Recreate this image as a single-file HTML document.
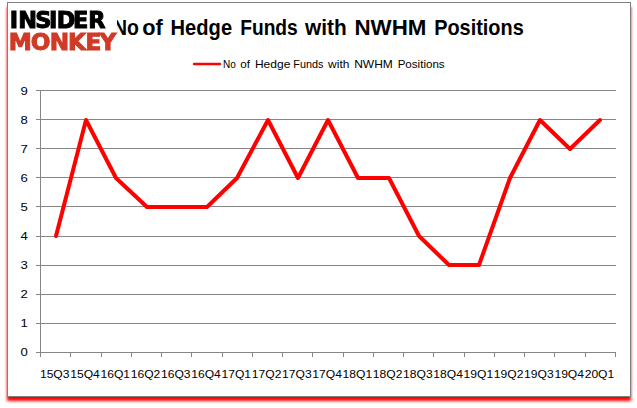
<!DOCTYPE html>
<html><head><meta charset="utf-8"><title>No of Hedge Funds with NWHM Positions</title>
<style>
html,body{margin:0;padding:0;background:#fff;}
body{width:637px;height:408px;position:relative;overflow:hidden;font-family:"Liberation Sans",sans-serif;}
#box{position:absolute;left:7px;top:2px;width:622px;height:393px;border:1px solid #7f7f7f;background:#fff;}
#sh{position:absolute;left:7px;top:7px;width:623.6px;height:394px;background:#ff0000;filter:blur(1.8px);}
svg{position:absolute;left:0;top:0;}
#logo{will-change:transform;}
text{font-family:"Liberation Sans",sans-serif;}
.ax{font-size:11.6px;fill:#000;}
.lg{font-size:11.6px;fill:#000;}
.ti{font-size:21.5px;font-weight:bold;fill:#000;}
.lo{font-family:"DejaVu Sans","Liberation Sans",sans-serif;font-weight:bold;stroke-linejoin:miter;}
</style></head><body>
<div id="sh"></div><div id="box"></div>
<svg width="637" height="408" viewBox="0 0 637 408">
<rect x="40" y="323" width="576" height="1" fill="#868686"/>
<rect x="40" y="294" width="576" height="1" fill="#868686"/>
<rect x="40" y="265" width="576" height="1" fill="#868686"/>
<rect x="40" y="236" width="576" height="1" fill="#868686"/>
<rect x="40" y="206" width="576" height="1" fill="#868686"/>
<rect x="40" y="177" width="576" height="1" fill="#868686"/>
<rect x="40" y="148" width="576" height="1" fill="#868686"/>
<rect x="40" y="119" width="576" height="1" fill="#868686"/>
<rect x="40" y="90" width="576" height="1" fill="#868686"/>
<rect x="40" y="90" width="1" height="263" fill="#868686"/>
<rect x="40" y="352" width="576" height="1" fill="#868686"/>
<rect x="36" y="352" width="4" height="1" fill="#868686"/>
<rect x="36" y="323" width="4" height="1" fill="#868686"/>
<rect x="36" y="294" width="4" height="1" fill="#868686"/>
<rect x="36" y="265" width="4" height="1" fill="#868686"/>
<rect x="36" y="236" width="4" height="1" fill="#868686"/>
<rect x="36" y="206" width="4" height="1" fill="#868686"/>
<rect x="36" y="177" width="4" height="1" fill="#868686"/>
<rect x="36" y="148" width="4" height="1" fill="#868686"/>
<rect x="36" y="119" width="4" height="1" fill="#868686"/>
<rect x="36" y="90" width="4" height="1" fill="#868686"/>
<rect x="40" y="352" width="1" height="5" fill="#868686"/>
<rect x="70" y="352" width="1" height="5" fill="#868686"/>
<rect x="101" y="352" width="1" height="5" fill="#868686"/>
<rect x="131" y="352" width="1" height="5" fill="#868686"/>
<rect x="161" y="352" width="1" height="5" fill="#868686"/>
<rect x="191" y="352" width="1" height="5" fill="#868686"/>
<rect x="222" y="352" width="1" height="5" fill="#868686"/>
<rect x="252" y="352" width="1" height="5" fill="#868686"/>
<rect x="282" y="352" width="1" height="5" fill="#868686"/>
<rect x="312" y="352" width="1" height="5" fill="#868686"/>
<rect x="343" y="352" width="1" height="5" fill="#868686"/>
<rect x="373" y="352" width="1" height="5" fill="#868686"/>
<rect x="403" y="352" width="1" height="5" fill="#868686"/>
<rect x="433" y="352" width="1" height="5" fill="#868686"/>
<rect x="464" y="352" width="1" height="5" fill="#868686"/>
<rect x="494" y="352" width="1" height="5" fill="#868686"/>
<rect x="524" y="352" width="1" height="5" fill="#868686"/>
<rect x="554" y="352" width="1" height="5" fill="#868686"/>
<rect x="585" y="352" width="1" height="5" fill="#868686"/>
<rect x="615" y="352" width="1" height="5" fill="#868686"/>
<text x="27.8" y="356" text-anchor="end" class="ax" textLength="7.3" lengthAdjust="spacingAndGlyphs">0</text>
<text x="27.8" y="327" text-anchor="end" class="ax" textLength="7.3" lengthAdjust="spacingAndGlyphs">1</text>
<text x="27.8" y="298" text-anchor="end" class="ax" textLength="7.3" lengthAdjust="spacingAndGlyphs">2</text>
<text x="27.8" y="269" text-anchor="end" class="ax" textLength="7.3" lengthAdjust="spacingAndGlyphs">3</text>
<text x="27.8" y="240" text-anchor="end" class="ax" textLength="7.3" lengthAdjust="spacingAndGlyphs">4</text>
<text x="27.8" y="211" text-anchor="end" class="ax" textLength="7.3" lengthAdjust="spacingAndGlyphs">5</text>
<text x="27.8" y="182" text-anchor="end" class="ax" textLength="7.3" lengthAdjust="spacingAndGlyphs">6</text>
<text x="27.8" y="153" text-anchor="end" class="ax" textLength="7.3" lengthAdjust="spacingAndGlyphs">7</text>
<text x="27.8" y="124" text-anchor="end" class="ax" textLength="7.3" lengthAdjust="spacingAndGlyphs">8</text>
<text x="27.8" y="95" text-anchor="end" class="ax" textLength="7.3" lengthAdjust="spacingAndGlyphs">9</text>
<text x="54.73" y="378" text-anchor="middle" class="ax" textLength="29.6" lengthAdjust="spacingAndGlyphs">15Q3</text>
<text x="84.99" y="378" text-anchor="middle" class="ax" textLength="29.6" lengthAdjust="spacingAndGlyphs">15Q4</text>
<text x="115.26" y="378" text-anchor="middle" class="ax" textLength="29.6" lengthAdjust="spacingAndGlyphs">16Q1</text>
<text x="145.52" y="378" text-anchor="middle" class="ax" textLength="29.6" lengthAdjust="spacingAndGlyphs">16Q2</text>
<text x="175.78" y="378" text-anchor="middle" class="ax" textLength="29.6" lengthAdjust="spacingAndGlyphs">16Q3</text>
<text x="206.05" y="378" text-anchor="middle" class="ax" textLength="29.6" lengthAdjust="spacingAndGlyphs">16Q4</text>
<text x="236.31" y="378" text-anchor="middle" class="ax" textLength="29.6" lengthAdjust="spacingAndGlyphs">17Q1</text>
<text x="266.57" y="378" text-anchor="middle" class="ax" textLength="29.6" lengthAdjust="spacingAndGlyphs">17Q2</text>
<text x="296.84" y="378" text-anchor="middle" class="ax" textLength="29.6" lengthAdjust="spacingAndGlyphs">17Q3</text>
<text x="327.10" y="378" text-anchor="middle" class="ax" textLength="29.6" lengthAdjust="spacingAndGlyphs">17Q4</text>
<text x="357.36" y="378" text-anchor="middle" class="ax" textLength="29.6" lengthAdjust="spacingAndGlyphs">18Q1</text>
<text x="387.63" y="378" text-anchor="middle" class="ax" textLength="29.6" lengthAdjust="spacingAndGlyphs">18Q2</text>
<text x="417.89" y="378" text-anchor="middle" class="ax" textLength="29.6" lengthAdjust="spacingAndGlyphs">18Q3</text>
<text x="448.15" y="378" text-anchor="middle" class="ax" textLength="29.6" lengthAdjust="spacingAndGlyphs">18Q4</text>
<text x="478.42" y="378" text-anchor="middle" class="ax" textLength="29.6" lengthAdjust="spacingAndGlyphs">19Q1</text>
<text x="508.68" y="378" text-anchor="middle" class="ax" textLength="29.6" lengthAdjust="spacingAndGlyphs">19Q2</text>
<text x="538.94" y="378" text-anchor="middle" class="ax" textLength="29.6" lengthAdjust="spacingAndGlyphs">19Q3</text>
<text x="569.21" y="378" text-anchor="middle" class="ax" textLength="29.6" lengthAdjust="spacingAndGlyphs">19Q4</text>
<text x="599.47" y="378" text-anchor="middle" class="ax" textLength="29.6" lengthAdjust="spacingAndGlyphs">20Q1</text>
<polyline points="56,236 86,120 116,178 147,207 177,207 207,207 237,178 268,120 298,178 328,120 358,178 389,178 419,236 449,265 479,265 510,178 540,120 570,149 600,120" fill="none" stroke="#ff0000" stroke-width="4" stroke-linejoin="round" stroke-linecap="round"/>
<line x1="194.1" y1="64" x2="219.9" y2="64" stroke="#ff0000" stroke-width="2.4" stroke-linecap="round"/>
<text class="lg" y="68"><tspan id="l0" x="222.93" textLength="12.78" lengthAdjust="spacingAndGlyphs">No</tspan> <tspan id="l1" x="240.39" textLength="9.69" lengthAdjust="spacingAndGlyphs">of</tspan> <tspan id="l2" x="254.92" textLength="35.44" lengthAdjust="spacingAndGlyphs">Hedge</tspan> <tspan id="l3" x="293.36" textLength="30.03" lengthAdjust="spacingAndGlyphs">Funds</tspan> <tspan id="l4" x="328.11" textLength="21.29" lengthAdjust="spacingAndGlyphs">with</tspan> <tspan id="l5" x="354.17" textLength="38.68" lengthAdjust="spacingAndGlyphs">NWHM</tspan> <tspan id="l6" x="397.63" textLength="47.04" lengthAdjust="spacingAndGlyphs">Positions</tspan></text>
<text class="ti" y="34.5"><tspan id="t0" x="113.03" textLength="25.94" lengthAdjust="spacingAndGlyphs">No</tspan> <tspan id="t1" x="142.25" textLength="20.53" lengthAdjust="spacingAndGlyphs">of</tspan> <tspan id="t2" x="170.57" textLength="61.53" lengthAdjust="spacingAndGlyphs">Hedge</tspan> <tspan id="t3" x="240.20" textLength="57.60" lengthAdjust="spacingAndGlyphs">Funds</tspan> <tspan id="t4" x="305.09" textLength="41.63" lengthAdjust="spacingAndGlyphs">with</tspan> <tspan id="t5" x="354.50" textLength="71.88" lengthAdjust="spacingAndGlyphs">NWHM</tspan> <tspan id="t6" x="434.20" textLength="89.52" lengthAdjust="spacingAndGlyphs">Positions</tspan></text>
</svg>
<svg id="logo" width="637" height="408" viewBox="0 0 637 408">
<rect x="8" y="3" width="109" height="54" fill="#ffffff"/>
<text class="lo" transform="scale(1.0,1)" x="9.73 18.13 35.25 49.03 56.66 72.94 88.37" y="27.8" font-size="22.4" fill="#000000" stroke="#000000" stroke-width="1.0">INSIDER</text>
<text class="lo" transform="scale(1.0,1)" x="8.86 30.79 49.79 68.09 85.56 99.60" y="49.9" font-size="23.2" fill="#d03a27" stroke="#d03a27" stroke-width="1.0">MONKEY</text>
</svg>
</body></html>
